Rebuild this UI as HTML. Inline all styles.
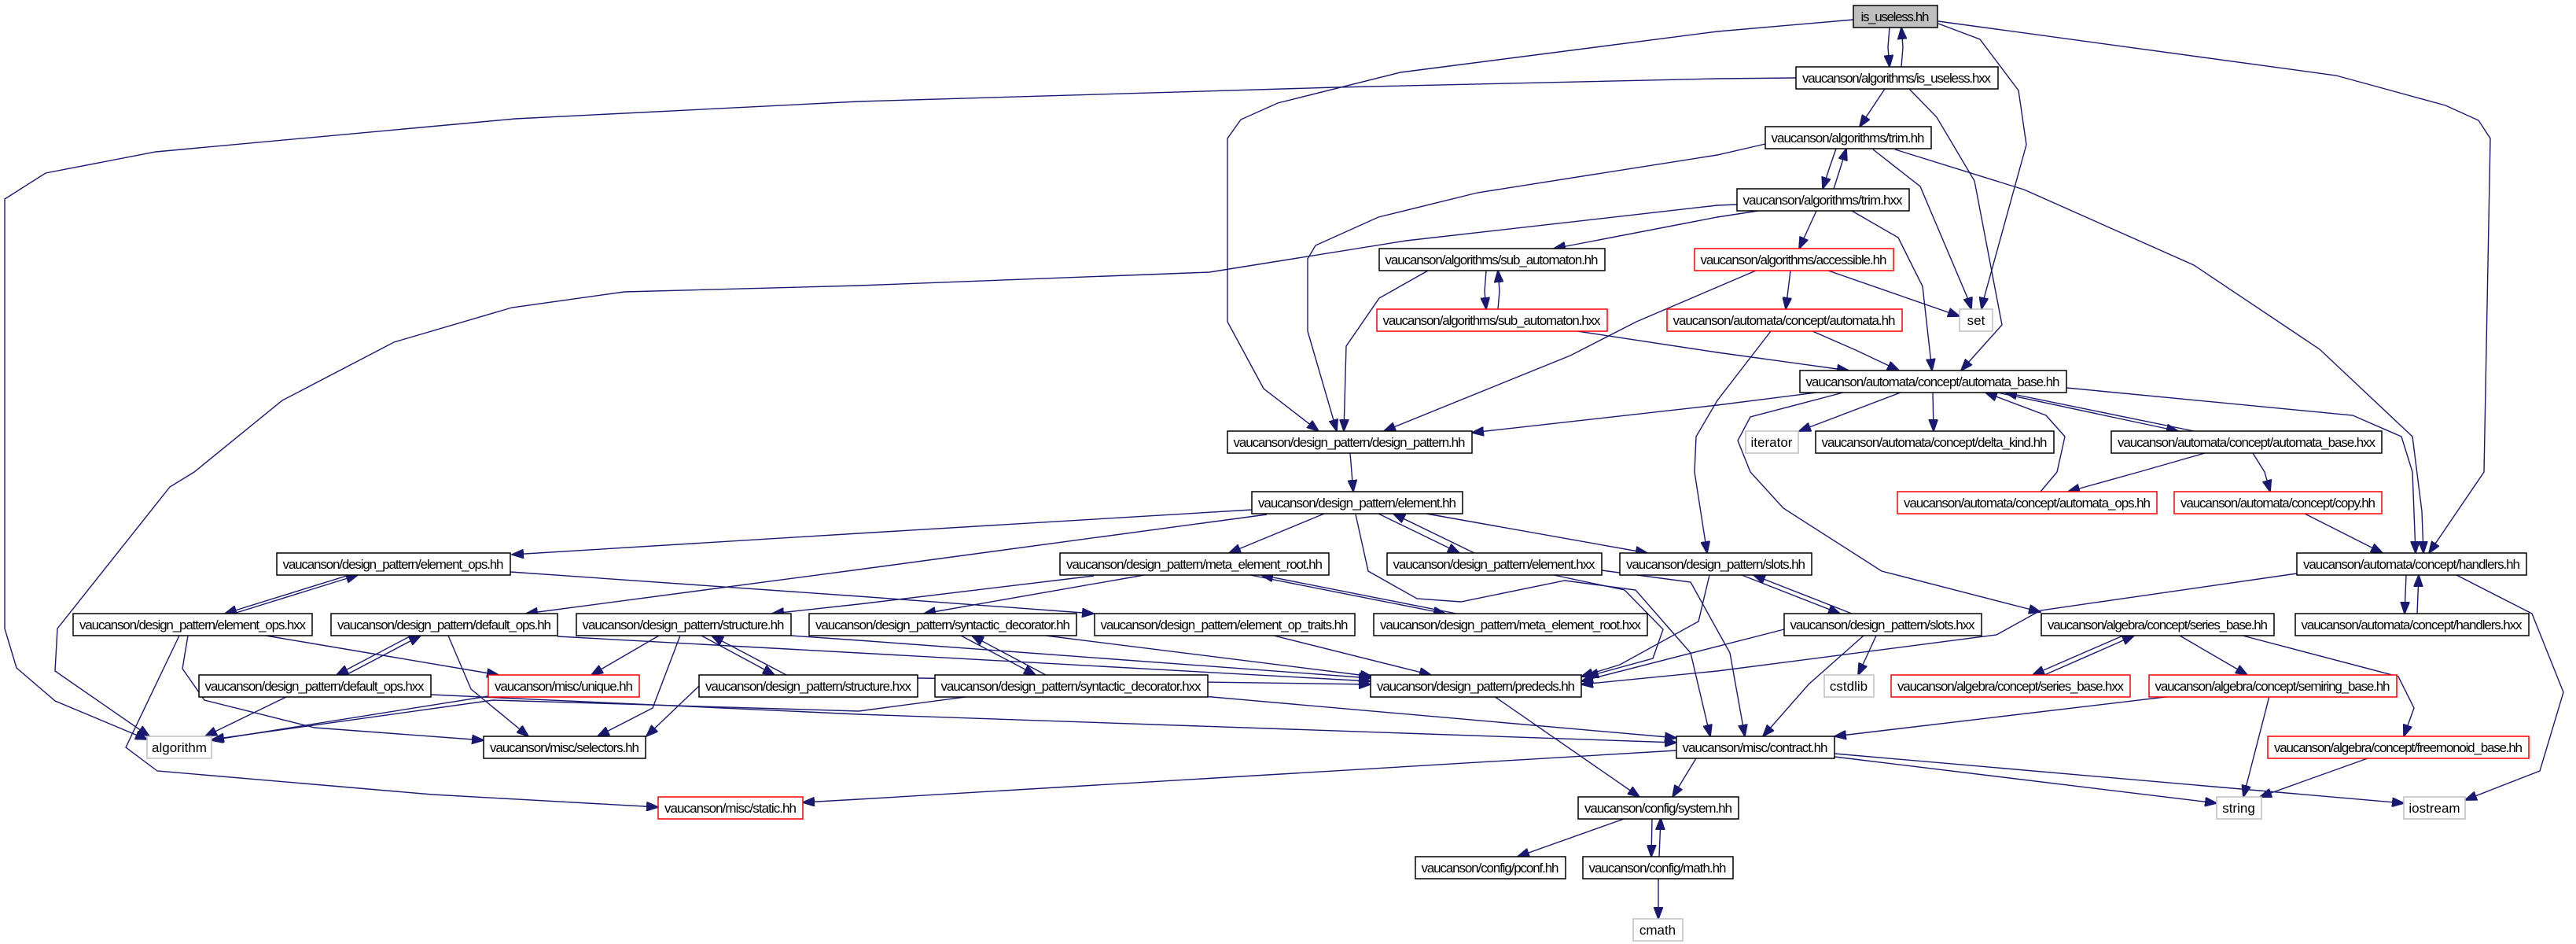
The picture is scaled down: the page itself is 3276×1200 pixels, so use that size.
<!DOCTYPE html>
<html><head><meta charset="utf-8"><style>
html,body{margin:0;padding:0;background:#fff;}
svg{display:block;}
text{font-family:"Liberation Sans",sans-serif;font-size:17px;fill:#000;text-anchor:middle;}
.e{fill:none;stroke:#191970;stroke-width:1.4;marker-end:url(#a);}
.b{fill:#fff;stroke:#000;stroke-width:1.5;}
.r{fill:#fff;stroke:#ff0000;stroke-width:1.5;}
.g{fill:#fff;stroke:#bfbfbf;stroke-width:1.5;}
</style></head><body>
<svg width="3276" height="1200" viewBox="0 0 3276 1200" xmlns="http://www.w3.org/2000/svg">
<defs><marker id="a" markerUnits="userSpaceOnUse" markerWidth="16" markerHeight="12" refX="15" refY="6" orient="auto"><path d="M0,0 L16,6 L0,12 z" fill="#191970" stroke="#191970"/></marker></defs>
<g>
<polyline class="e" points="2403,35 2401,60 2403,85"/>
<polyline class="e" points="2418,85 2420,60 2418,35"/>
<polyline class="e" points="2357,25 2184,40 1781,92 1625,131 1578,152 1561,176 1561,409 1607,494 1677,548"/>
<polyline class="e" points="2284,99 2184,100 1698,111 1092,129 655,151 198,193 58,220 6,253 6,799 21,849 70,891 187,940"/>
<polyline class="e" points="2465,30 2518,50 2567,115 2577,184 2522,383 2520,393"/>
<polyline class="e" points="2465,27 2971,96 3110,134 3152,153 3167,176 3159,600 3089,703"/>
<polyline class="e" points="2397,113 2365,161"/>
<polyline class="e" points="2428,113 2463,149 2511,230 2546,413 2494,471"/>
<polyline class="e" points="2335,189 2326,215 2318,240"/>
<polyline class="e" points="2332,240 2340,215 2348,189"/>
<polyline class="e" points="2382,190 2442,237 2504,383 2507,393"/>
<polyline class="e" points="2410,190 2574,241 2790,337 2950,444 3068,555 3080,650 3082,703"/>
<polyline class="e" points="2245,183 2184,197 1879,245 1753,276 1673,312 1663,329 1663,421 1700,548"/>
<polyline class="e" points="2236,268 2184,276 1976,316"/>
<polyline class="e" points="2310,268 2288,316"/>
<polyline class="e" points="2355,268 2414,302 2445,364 2457,471"/>
<polyline class="e" points="2209,260 2184,261 1788,306 1538,346 1092,363 794,371 651,391 501,435 359,509 247,600 216,619 73,799 70,853 190,936"/>
<polyline class="e" points="2325,344 2492,402"/>
<polyline class="e" points="2277,344 2271,393"/>
<polyline class="e" points="2233,344 2081,409 1997,452 1760,548"/>
<polyline class="e" points="1890,344 1888,370 1890,393"/>
<polyline class="e" points="1905,393 1907,370 1905,344"/>
<polyline class="e" points="1816,344 1754,379 1712,440 1709,548"/>
<polyline class="e" points="2006,421 2184,448 2351,471"/>
<polyline class="e" points="2305,421 2360,445 2415,471"/>
<polyline class="e" points="2252,421 2184,509 2157,555 2155,600 2171,703"/>
<polyline class="e" points="2310,499 2184,515 1872,550"/>
<polyline class="e" points="2417,499 2288,548"/>
<polyline class="e" points="2458,499 2459,548"/>
<polyline class="e" points="2540,499 2770,548"/>
<polyline class="e" points="2790,548 2550,499"/>
<polyline class="e" points="2628,493 2992,528 3054,555 3068,600 3072,703"/>
<polyline class="e" points="2344,499 2226,530 2210,560 2226,600 2268,646 2393,726 2595,778"/>
<polyline class="e" points="2804,576 2720,600 2630,625"/>
<polyline class="e" points="2595,625 2616,600 2626,555 2602,528 2525,499"/>
<polyline class="e" points="2865,576 2880,600 2887,625"/>
<polyline class="e" points="2931,653 3030,703"/>
<polyline class="e" points="1717,576 1721,625"/>
<polyline class="e" points="1592,648 1092,678 651,705"/>
<polyline class="e" points="1611,654 1092,724 669,780"/>
<polyline class="e" points="1684,653 1563,703"/>
<polyline class="e" points="1753,653 1856,703"/>
<polyline class="e" points="1875,703 1772,653"/>
<polyline class="e" points="1814,653 2095,703"/>
<polyline class="e" points="1724,654 1740,726 1802,761 1858,765 1990,738 2080,750 2150,830 2175,936"/>
<polyline class="e" points="1976,731 2066,750 2115,800 2102,837 2018,860"/>
<polyline class="e" points="1455,731 1175,780"/>
<polyline class="e" points="1590,731 1838,780"/>
<polyline class="e" points="1852,780 1604,731"/>
<polyline class="e" points="1391,732 1092,768 982,780"/>
<polyline class="e" points="444,731 286,780"/>
<polyline class="e" points="297,780 455,731"/>
<polyline class="e" points="649,727 1092,758 1391,780"/>
<polyline class="e" points="228,808 160,950 200,980 550,1010 837,1026"/>
<polyline class="e" points="239,808 232,850 260,890 400,925 615,941"/>
<polyline class="e" points="338,808 634,858"/>
<polyline class="e" points="366,885 261,936"/>
<polyline class="e" points="523,808 428,858"/>
<polyline class="e" points="440,858 535,808"/>
<polyline class="e" points="570,808 599,876 672,936"/>
<polyline class="e" points="709,809 1092,830 1743,866"/>
<polyline class="e" points="838,808 752,858"/>
<polyline class="e" points="865,808 830,900 760,936"/>
<polyline class="e" points="892,808 985,858"/>
<polyline class="e" points="1000,858 905,808"/>
<polyline class="e" points="1006,808 1092,814 1743,862"/>
<polyline class="e" points="621,885 269,941"/>
<polyline class="e" points="548,883 1092,908 2132,944"/>
<polyline class="e" points="889,872 822,936"/>
<polyline class="e" points="1167,862 1743,870"/>
<polyline class="e" points="1222,808 1317,858"/>
<polyline class="e" points="1330,858 1236,808"/>
<polyline class="e" points="1330,808 1745,860"/>
<polyline class="e" points="1235,885 1092,904 627,890 270,940"/>
<polyline class="e" points="1530,885 2132,938"/>
<polyline class="e" points="1620,808 1820,858"/>
<polyline class="e" points="1900,885 2085,1013"/>
<polyline class="e" points="2174,731 2160,790 2060,845 2011,860"/>
<polyline class="e" points="2215,731 2340,780"/>
<polyline class="e" points="2355,780 2230,731"/>
<polyline class="e" points="2269,800 2011,866"/>
<polyline class="e" points="2386,808 2363,858"/>
<polyline class="e" points="2370,808 2300,870 2242,936"/>
<polyline class="e" points="2037,725 2150,740 2200,830 2219,936"/>
<polyline class="e" points="2921,729 2595,776 2539,807 2184,853 2011,870"/>
<polyline class="e" points="3060,731 3058,780"/>
<polyline class="e" points="3074,780 3076,731"/>
<polyline class="e" points="3124,731 3220,780 3260,880 3230,980 3135,1017"/>
<polyline class="e" points="2700,808 2585,858"/>
<polyline class="e" points="2600,858 2714,808"/>
<polyline class="e" points="2772,808 2858,858"/>
<polyline class="e" points="2852,808 3050,860 3070,900 3057,936"/>
<polyline class="e" points="2762,885 2333,936"/>
<polyline class="e" points="2886,885 2853,1013"/>
<polyline class="e" points="3011,964 2874,1013"/>
<polyline class="e" points="2333,962 2819,1021"/>
<polyline class="e" points="2333,958 3057,1021"/>
<polyline class="e" points="2132,954 1092,1016 1021,1020"/>
<polyline class="e" points="2157,964 2127,1013"/>
<polyline class="e" points="2068,1040 1930,1089"/>
<polyline class="e" points="2101,1040 2100,1089"/>
<polyline class="e" points="2110,1089 2112,1040"/>
<polyline class="e" points="2109,1117 2109,1168"/>
</g>
<g>
<rect x="2357" y="7" width="107" height="28" fill="#bfbfbf" stroke="#000" stroke-width="1.5"/><text x="2410" y="27" textLength="87">is_useless.hh</text>
<rect class="b" x="2284" y="85" width="257" height="28"/><text x="2412" y="105" textLength="240">vaucanson/algorithms/is_useless.hxx</text>
<rect class="b" x="2245" y="161" width="211" height="28"/><text x="2350" y="181" textLength="195">vaucanson/algorithms/trim.hh</text>
<rect class="b" x="2209" y="240" width="219" height="28"/><text x="2318" y="260" textLength="203">vaucanson/algorithms/trim.hxx</text>
<rect class="r" x="2155" y="316" width="253" height="28"/><text x="2281" y="336" textLength="237">vaucanson/algorithms/accessible.hh</text>
<rect class="r" x="2120" y="393" width="299" height="28"/><text x="2269" y="413" textLength="283">vaucanson/automata/concept/automata.hh</text>
<rect class="g" x="2492" y="393" width="42" height="28"/><text x="2513" y="413">set</text>
<rect class="b" x="2289" y="471" width="339" height="28"/><text x="2458" y="491" textLength="323">vaucanson/automata/concept/automata_base.hh</text>
<rect class="g" x="2220" y="548" width="67" height="28"/><text x="2253" y="568">iterator</text>
<rect class="b" x="2309" y="548" width="303" height="28"/><text x="2460" y="568" textLength="287">vaucanson/automata/concept/delta_kind.hh</text>
<rect class="b" x="2685" y="548" width="344" height="28"/><text x="2857" y="568" textLength="328">vaucanson/automata/concept/automata_base.hxx</text>
<rect class="b" x="1754" y="316" width="287" height="28"/><text x="1897" y="336" textLength="271">vaucanson/algorithms/sub_automaton.hh</text>
<rect class="r" x="1751" y="393" width="293" height="28"/><text x="1897" y="413" textLength="277">vaucanson/algorithms/sub_automaton.hxx</text>
<rect class="b" x="1561" y="548" width="311" height="28"/><text x="1716" y="568" textLength="295">vaucanson/design_pattern/design_pattern.hh</text>
<rect class="b" x="1592" y="625" width="268" height="28"/><text x="1726" y="645" textLength="252">vaucanson/design_pattern/element.hh</text>
<rect class="b" x="1348" y="703" width="342" height="28"/><text x="1519" y="723" textLength="326">vaucanson/design_pattern/meta_element_root.hh</text>
<rect class="b" x="1764" y="703" width="273" height="28"/><text x="1900" y="723" textLength="257">vaucanson/design_pattern/element.hxx</text>
<rect class="b" x="2060" y="703" width="244" height="28"/><text x="2182" y="723" textLength="228">vaucanson/design_pattern/slots.hh</text>
<rect class="b" x="1029" y="780" width="340" height="28"/><text x="1199" y="800" textLength="324">vaucanson/design_pattern/syntactic_decorator.hh</text>
<rect class="b" x="1392" y="780" width="331" height="28"/><text x="1557" y="800" textLength="315">vaucanson/design_pattern/element_op_traits.hh</text>
<rect class="b" x="1747" y="780" width="348" height="28"/><text x="1921" y="800" textLength="332">vaucanson/design_pattern/meta_element_root.hxx</text>
<rect class="b" x="889" y="858" width="278" height="28"/><text x="1028" y="878" textLength="262">vaucanson/design_pattern/structure.hxx</text>
<rect class="b" x="1189" y="858" width="347" height="28"/><text x="1362" y="878" textLength="331">vaucanson/design_pattern/syntactic_decorator.hxx</text>
<rect class="b" x="1743" y="858" width="268" height="28"/><text x="1877" y="878" textLength="252">vaucanson/design_pattern/predecls.hh</text>
<rect class="b" x="2132" y="936" width="201" height="28"/><text x="2232" y="956" textLength="185">vaucanson/misc/contract.hh</text>
<rect class="b" x="2007" y="1013" width="204" height="28"/><text x="2109" y="1033" textLength="188">vaucanson/config/system.hh</text>
<rect class="b" x="1800" y="1089" width="191" height="28"/><text x="1895" y="1109" textLength="175">vaucanson/config/pconf.hh</text>
<rect class="b" x="2013" y="1089" width="191" height="28"/><text x="2108" y="1109" textLength="175">vaucanson/config/math.hh</text>
<rect class="g" x="2077" y="1168" width="63" height="28"/><text x="2108" y="1188">cmath</text>
<rect class="b" x="352" y="703" width="297" height="28"/><text x="500" y="723" textLength="281">vaucanson/design_pattern/element_ops.hh</text>
<rect class="b" x="93" y="780" width="304" height="28"/><text x="245" y="800" textLength="288">vaucanson/design_pattern/element_ops.hxx</text>
<rect class="b" x="421" y="780" width="288" height="28"/><text x="565" y="800" textLength="272">vaucanson/design_pattern/default_ops.hh</text>
<rect class="b" x="733" y="780" width="273" height="28"/><text x="869" y="800" textLength="257">vaucanson/design_pattern/structure.hh</text>
<rect class="b" x="253" y="858" width="295" height="28"/><text x="400" y="878" textLength="279">vaucanson/design_pattern/default_ops.hxx</text>
<rect class="r" x="621" y="858" width="192" height="28"/><text x="717" y="878" textLength="176">vaucanson/misc/unique.hh</text>
<rect class="g" x="187" y="936" width="82" height="28"/><text x="228" y="956">algorithm</text>
<rect class="b" x="615" y="936" width="206" height="28"/><text x="718" y="956" textLength="190">vaucanson/misc/selectors.hh</text>
<rect class="r" x="837" y="1013" width="184" height="28"/><text x="929" y="1033" textLength="168">vaucanson/misc/static.hh</text>
<rect class="r" x="2413" y="625" width="330" height="28"/><text x="2578" y="645" textLength="314">vaucanson/automata/concept/automata_ops.hh</text>
<rect class="r" x="2765" y="625" width="264" height="28"/><text x="2897" y="645" textLength="248">vaucanson/automata/concept/copy.hh</text>
<rect class="b" x="2921" y="703" width="292" height="28"/><text x="3067" y="723" textLength="276">vaucanson/automata/concept/handlers.hh</text>
<rect class="b" x="2269" y="780" width="251" height="28"/><text x="2394" y="800" textLength="235">vaucanson/design_pattern/slots.hxx</text>
<rect class="b" x="2596" y="780" width="296" height="28"/><text x="2744" y="800" textLength="280">vaucanson/algebra/concept/series_base.hh</text>
<rect class="b" x="2919" y="780" width="297" height="28"/><text x="3067" y="800" textLength="281">vaucanson/automata/concept/handlers.hxx</text>
<rect class="g" x="2320" y="858" width="63" height="28"/><text x="2351" y="878">cstdlib</text>
<rect class="r" x="2405" y="858" width="304" height="28"/><text x="2557" y="878" textLength="288">vaucanson/algebra/concept/series_base.hxx</text>
<rect class="r" x="2733" y="858" width="315" height="28"/><text x="2890" y="878" textLength="299">vaucanson/algebra/concept/semiring_base.hh</text>
<rect class="r" x="2884" y="936" width="332" height="28"/><text x="3050" y="956" textLength="316">vaucanson/algebra/concept/freemonoid_base.hh</text>
<rect class="g" x="2819" y="1013" width="57" height="28"/><text x="2847" y="1033">string</text>
<rect class="g" x="3057" y="1013" width="78" height="28"/><text x="3096" y="1033">iostream</text>
</g>
</svg>
</body></html>
